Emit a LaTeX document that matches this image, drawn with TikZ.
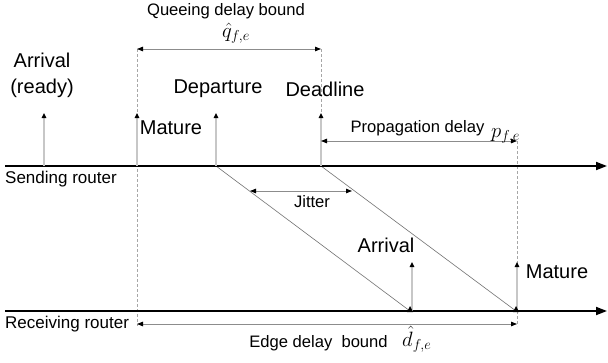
\documentclass[tikz,border=0pt]{standalone}
\usepackage{fontspec}
\setmainfont{Liberation Sans}
\usetikzlibrary{arrows.meta}
\begin{document}
\begin{tikzpicture}[x=1pt,y=-1pt,
 big/.style={font=\fontsize{20}{26}\selectfont, inner sep=0pt, align=center},
 small/.style={font=\fontsize{16.6}{19}\selectfont, inner sep=0pt},
 router/.style={font=\fontsize{17}{19}\selectfont, inner sep=0pt, anchor=west},
 mathlbl/.style={font=\fontsize{22}{24}\selectfont, inner sep=0pt, anchor=base west},
 axisline/.style={draw=black, line width=1.8pt, -{Triangle[length=11pt,width=8pt]}},
 tickarrow/.style={draw=black!22, line width=1.6pt, -{Triangle[length=5pt,width=4.5pt,color=black]}},
 dimarrow/.style={draw=black!45, line width=0.9pt, {Triangle[length=6pt,width=4.5pt,color=black]}-{Triangle[length=6pt,width=4.5pt,color=black]}},
 guide/.style={draw=black!35, line width=0.8pt, dash pattern=on 3pt off 2pt},
 pktpath/.style={draw=black!55, line width=0.6pt},
 marker/.style={fill=black},
]
\useasboundingbox (0,0) rectangle (608,362);
\fill[white] (0,0) rectangle (608,362);

% coordinates
\coordinate (sL) at (5,166);   \coordinate (sR) at (607,166);
\coordinate (rL) at (5,311);   \coordinate (rR) at (607,311);
\coordinate (a1B) at (44,166);  \coordinate (a1T) at (44,113);
\coordinate (m1B) at (137,166); \coordinate (m1T) at (137,113);
\coordinate (dpB) at (216,166); \coordinate (dpT) at (216,113);
\coordinate (dlB) at (321,166); \coordinate (dlT) at (321,113);
\coordinate (a2B) at (412,311); \coordinate (a2T) at (412,262);
\coordinate (m2B) at (517,311); \coordinate (m2T) at (517,262);
\coordinate (qL) at (137,49);  \coordinate (qR) at (321,49);
\coordinate (pL) at (321,141); \coordinate (pR) at (517,141);
\coordinate (jL) at (250,191); \coordinate (jR) at (352,191);
\coordinate (eL) at (137,324); \coordinate (eR) at (517,324);
\coordinate (g1E) at (137,326); \coordinate (g3E) at (517,326);
\coordinate (d1E) at (410,311); \coordinate (d2E) at (516,311);

% guides
\draw[guide] (qL) -- (g1E);
\draw[guide] (qR) -- (dlT);
\draw[guide] (pR) -- (g3E);

% packet paths
\draw[pktpath] (dpB) -- (d1E);
\draw[pktpath] (dlB) -- (d2E);

% axes
\draw[axisline] (sL) -- (sR);
\draw[axisline] (rL) -- (rR);

% event arrows
\draw[tickarrow] (a1B) -- (a1T);
\draw[tickarrow] (m1B) -- (m1T);
\draw[tickarrow] (dpB) -- (dpT);
\draw[tickarrow] (dlB) -- (dlT);
\draw[tickarrow] (a2B) -- (a2T);
\draw[tickarrow] (m2B) -- (m2T);

% markers at arrival points
\fill[marker] (d1E) ++(-3,1) -- ++(3,-6) -- ++(3,6) -- cycle;
\fill[marker] (d2E) ++(-3,1) -- ++(3,-6) -- ++(3,6) -- cycle;

% dimension arrows
\draw[dimarrow] (qL) -- (qR);
\draw[dimarrow] (pL) -- (pR);
\draw[dimarrow] (jL) -- (jR);
\draw[dimarrow] (eL) -- (eR);

% labels
\node[small] (tq) at (226,11) {Queeing delay bound};
\node[mathlbl] (mq) at (222,37) {$\hat{q}_{f,e}$};
\node[big] (tarr1) at (42,75) {Arrival\\(ready)};
\node[big] (tmat1) at (171,128) {Mature};
\node[big] (tdep) at (218,89) {Departure};
\node[big] (tdl) at (325,89) {Deadline};
\node[small] (tp) at (417.5,128) {Propagation delay};
\node[mathlbl] (mp) at (491,137) {$p_{f,e}$};
\node[router] (tsend) at (5,179) {Sending router};
\node[small] (tjit) at (312,202) {Jitter};
\node[big] (tarr2) at (386,245) {Arrival};
\node[big] (tmat2) at (557,272) {Mature};
\node[router] (trecv) at (5,324) {Receiving router};
\node[small] (tedge) at (318.5,343) {Edge delay\ \ bound};
\node[mathlbl] (md) at (402,346) {$\hat{d}_{f,e}$};
\end{tikzpicture}
\end{document}
